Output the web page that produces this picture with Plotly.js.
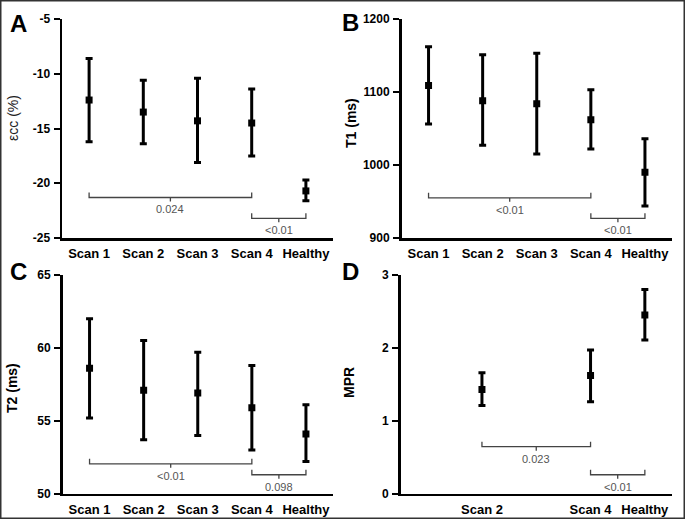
<!DOCTYPE html>
<html>
<head>
<meta charset="utf-8">
<script src="https://cdn.plot.ly/plotly-3.0.1.min.js"></script>
<style>
html,body{margin:0;padding:0;background:#fff;}
#chart{width:685px;height:519px;}
</style>
</head>
<body>
<div id="chart"></div>
<script>
// ---- data ----
const categories = ['Scan 1', 'Scan 2', 'Scan 3', 'Scan 4', 'Healthy'];

const ecc_mean  = [-12.4, -13.5, -14.3, -14.5, -20.7];
const ecc_upper = [-8.6, -10.6, -10.4, -11.4, -19.7];
const ecc_lower = [-16.2, -16.4, -18.1, -17.5, -21.6];
const ecc_ticks = [-25, -20, -15, -10, -5];

const t1_mean  = [1109, 1088, 1084, 1062, 990];
const t1_upper = [1162, 1151, 1153, 1103, 1036];
const t1_lower = [1056, 1027, 1015, 1022, 944];
const t1_ticks = [900, 1000, 1100, 1200];

const t2_mean  = [58.6, 57.1, 56.9, 55.9, 54.1];
const t2_upper = [62.0, 60.5, 59.7, 58.8, 56.1];
const t2_lower = [55.2, 53.7, 54.0, 53.0, 52.2];
const t2_ticks = [50, 55, 60, 65];

const mpr_mean  = [null, 1.43, null, 1.62, 2.45];
const mpr_upper = [null, 1.66, null, 1.97, 2.80];
const mpr_lower = [null, 1.21, null, 1.26, 2.11];
const mpr_ticks = [0, 1, 2, 3];

// significance brackets: [from, to, y level, p-value label]
const ecc_brackets = [['Scan 1', 'Scan 4', -21.3, '0.024'], ['Scan 4', 'Healthy', -23.2, '<0.01']];
const t1_brackets  = [['Scan 1', 'Scan 4', 955, '<0.01'], ['Scan 4', 'Healthy', 927, '<0.01']];
const t2_brackets  = [['Scan 1', 'Scan 4', 52.05, '<0.01'], ['Scan 4', 'Healthy', 51.3, '0.098']];
const mpr_brackets = [['Scan 2', 'Scan 4', 0.645, '0.023'], ['Scan 4', 'Healthy', 0.26, '<0.01']];

const yTitles = ['\u03b5cc (%)', 'T1 (ms)', 'T2 (ms)', 'MPR'];
const panelLetters = ['A', 'B', 'C', 'D'];

// ---- build ----
const FONT = 'Liberation Sans, Arial, sans-serif';
const panels = [
  {mean: ecc_mean, up: ecc_upper, lo: ecc_lower, br: ecc_brackets, ticks: ecc_ticks},
  {mean: t1_mean, up: t1_upper, lo: t1_lower, br: t1_brackets, ticks: t1_ticks},
  {mean: t2_mean, up: t2_upper, lo: t2_lower, br: t2_brackets, ticks: t2_ticks},
  {mean: mpr_mean, up: mpr_upper, lo: mpr_lower, br: mpr_brackets, ticks: mpr_ticks}
];

const W = 685, H = 519;
// plot boxes in pixels [left, right, top, bottom]
const boxes = [
  [62, 333, 19, 238],
  [401.5, 672, 19, 238],
  [62.5, 333, 275, 493.7],
  [400.5, 672, 275, 493.7]
];

const traces = [];
const shapes = [];
const annotations = [];
const layout = {
  width: W, height: H,
  margin: {l: 0, r: 0, t: 0, b: 0},
  paper_bgcolor: '#ffffff',
  plot_bgcolor: '#ffffff',
  showlegend: false,
  font: {family: FONT, color: '#000'}
};

panels.forEach((p, i) => {
  const n = i === 0 ? '' : String(i + 1);
  const xa = 'x' + n, ya = 'y' + n;
  const b = boxes[i];
  const xs = [], ys = [], ep = [], em = [];
  categories.forEach((c, k) => {
    if (p.mean[k] === null) return;
    xs.push(c); ys.push(p.mean[k]);
    ep.push(p.up[k] - p.mean[k]); em.push(p.mean[k] - p.lo[k]);
  });
  traces.push({
    type: 'scatter', mode: 'markers', x: xs, y: ys, xaxis: xa, yaxis: ya,
    marker: {symbol: 'square', size: 7, color: '#000'},
    error_y: {type: 'data', symmetric: false, array: ep, arrayminus: em,
              color: '#000', thickness: 3, width: 3.5},
    hoverinfo: 'skip'
  });
  layout['xaxis' + n] = {
    domain: [b[0] / W, b[1] / W], anchor: ya,
    type: 'category', categoryorder: 'array', categoryarray: categories,
    range: [-0.5, 4.5],
    tickvals: xs, ticktext: xs,
    showline: true, linecolor: '#000', linewidth: 2.5,
    ticks: '', showgrid: false, zeroline: false,
    ticklabelstandoff: 2,
    tickfont: {family: FONT, size: 13, weight: 'bold', color: '#000'}
  };
  layout['yaxis' + n] = {
    domain: [1 - b[3] / H, 1 - b[2] / H], anchor: xa,
    range: [p.ticks[0], p.ticks[p.ticks.length - 1]],
    tickmode: 'array', tickvals: p.ticks, ticktext: p.ticks.map(v => String(v)),
    showline: true, linecolor: '#000', linewidth: 2.5,
    ticks: 'outside', ticklen: 6, tickwidth: 2, tickcolor: '#000',
    showgrid: false, zeroline: false,
    ticklabelstandoff: 1,
    tickfont: {family: FONT, size: 12, weight: 'bold', color: '#000'}
  };
  p.br.forEach(br => {
    const i1 = categories.indexOf(br[0]);
    const i2 = categories.indexOf(br[1]);
    const mid = (i1 + i2) / 2;
    shapes.push({
      type: 'path', xref: xa, yref: ya, ysizemode: 'pixel', yanchor: br[2],
      path: `M ${i1},5 L ${i1},0 L ${i2},0 L ${i2},5 M ${mid},0 L ${mid},-4`,
      line: {color: '#444', width: 1.3}
    });
    annotations.push({
      xref: xa, yref: ya, x: mid, y: br[2], yanchor: 'top', xanchor: 'center',
      yshift: -4, text: br[3], showarrow: false,
      font: {family: FONT, size: 11, color: '#555'}
    });
  });
});

// y-axis titles
const titlePos = [[13, 118], [351, 123], [12, 388], [349, 383]];
yTitles.forEach((t, i) => {
  annotations.push({
    xref: 'paper', yref: 'paper', x: titlePos[i][0] / W, y: 1 - titlePos[i][1] / H,
    xanchor: 'center', yanchor: 'middle', textangle: -90, text: t, showarrow: false,
    font: {family: FONT, size: 14, weight: i === 0 ? 'normal' : 'bold', color: i === 0 ? '#222' : '#000'}
  });
});

// panel letters
const letterPos = [[18, 24], [350, 23], [18, 271], [350, 271]];
panelLetters.forEach((t, i) => {
  annotations.push({
    xref: 'paper', yref: 'paper', x: letterPos[i][0] / W, y: 1 - letterPos[i][1] / H,
    xanchor: 'center', yanchor: 'middle', text: t, showarrow: false,
    font: {family: FONT, size: 24, weight: 'bold', color: '#000'}
  });
});

// outer frame
shapes.push({type: 'rect', xref: 'paper', yref: 'paper', x0: 0, x1: 1, y0: 0, y1: 1,
             line: {color: '#333', width: 3}});

layout.shapes = shapes;
layout.annotations = annotations;

Plotly.newPlot('chart', traces, layout, {displayModeBar: false, staticPlot: true});
</script>
</body>
</html>
